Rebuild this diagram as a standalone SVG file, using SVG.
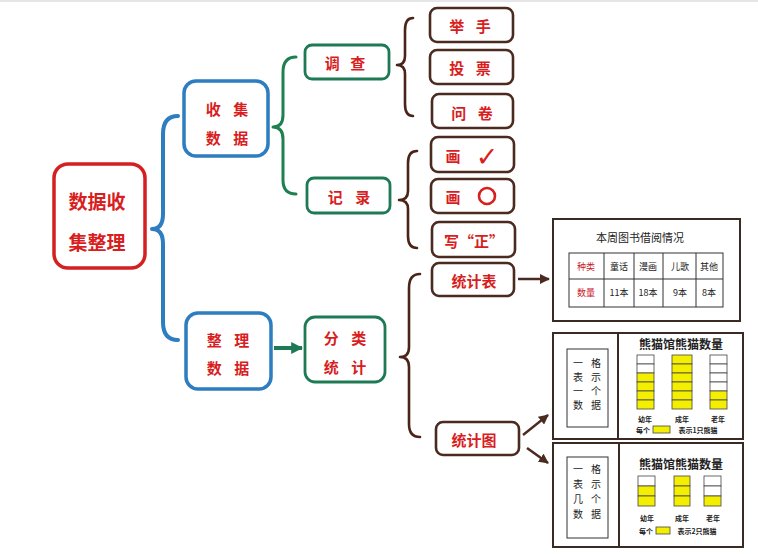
<svg xmlns="http://www.w3.org/2000/svg" width="758" height="554" viewBox="0 0 758 554">
<defs>
<style>
.t{font-family:"Noto Sans CJK SC","Liberation Sans",sans-serif;font-weight:bold;fill:#d81e1e;text-anchor:middle;dominant-baseline:central}
.s{font-family:"Noto Sans CJK SC","Liberation Serif",serif;fill:#222;text-anchor:middle;dominant-baseline:central}
.v{font-family:"Noto Sans CJK SC","Liberation Serif",serif;fill:#222;text-anchor:middle;dominant-baseline:central;font-size:10px}
.red{stroke:#d42020;stroke-width:3.5;fill:#fff}
.blue{stroke:#2d7dc0;stroke-width:3.5;fill:#fff}
.green{stroke:#1e7a55;stroke-width:2.8;fill:#fff}
.brown{stroke:#4b2a20;stroke-width:2.6;fill:#fff}
.frame{stroke:#3a2a24;stroke-width:2;fill:#fff}
.thin{stroke:#333;stroke-width:1;fill:none}
.y{fill:#f4ef00;stroke:#444;stroke-width:0.8}
.w{fill:#fff;stroke:#444;stroke-width:0.8}
.br{fill:none;stroke-linecap:round;stroke-linejoin:round}
</style>
<marker id="ab" viewBox="0 0 10 10" refX="9" refY="5" markerWidth="4" markerHeight="4" orient="auto" markerUnits="strokeWidth"><path d="M0,0 L10,5 L0,10 z" fill="#4b2a20"/></marker>
<marker id="ag" viewBox="0 0 10 10" refX="9" refY="5" markerWidth="3" markerHeight="3" orient="auto" markerUnits="strokeWidth"><path d="M0,0 L10,5 L0,10 z" fill="#1e7a55"/></marker>
</defs>
<rect x="0" y="0" width="758" height="554" fill="#fff"/>
<rect x="0" y="0" width="758" height="2" fill="#e6e6e6"/>

<g id="connectors">
<path class="br" stroke="#2d7dc0" stroke-width="4" d="M178,116 Q163,116 163,134 L163,214 Q163,229 152,229 Q163,229 163,244 L163,322 Q163,340 178,340"/>
<path class="br" stroke="#1e8050" stroke-width="3" d="M296,57 Q283,57 283,72 L283,115 Q283,127 273,127 Q283,127 283,139 L283,180 Q283,194 296,194"/>
<path class="br" stroke="#4b2418" stroke-width="2.6" d="M413,18 Q405,18 405,30 L405,56 Q405,65 397,65 Q405,65 405,74 L405,104 Q405,116 413,116"/>
<path class="br" stroke="#4b2418" stroke-width="2.6" d="M417,151 Q408,151 408,163 L408,191 Q408,200 399,200 Q408,200 408,209 L408,236 Q408,248 417,248"/>
<path class="br" stroke="#4b2418" stroke-width="2.6" d="M420,274 Q409,274 409,288 L409,347 Q409,357 400,357 Q409,357 409,367 L409,424 Q409,437 420,437"/>
<line x1="274" y1="348" x2="302" y2="348" stroke="#1e7a55" stroke-width="4" marker-end="url(#ag)"/>
<line x1="518" y1="279" x2="549" y2="279" stroke="#4b2a20" stroke-width="2.5" marker-end="url(#ab)"/>
<line x1="523" y1="435" x2="548" y2="415" stroke="#4b2a20" stroke-width="2.5" marker-end="url(#ab)"/>
<line x1="527" y1="448" x2="548" y2="463" stroke="#4b2a20" stroke-width="2.5" marker-end="url(#ab)"/>
</g>

<g id="root">
<rect class="red" x="54" y="164" width="91" height="104" rx="14"/>
<text class="t" x="97" y="200" font-size="19">数据收</text>
<text class="t" x="97" y="241" font-size="19">集整理</text>
</g>

<g id="collect">
<rect class="blue" x="184" y="81" width="84" height="75" rx="12"/>
<text class="t" x="227" y="108" font-size="15" word-spacing="9">收 集</text>
<text class="t" x="227" y="137" font-size="15" word-spacing="9">数 据</text>
</g>

<g id="organize">
<rect class="blue" x="186" y="313" width="85" height="76" rx="12"/>
<text class="t" x="228" y="339" font-size="15" word-spacing="9">整 理</text>
<text class="t" x="228" y="367" font-size="15" word-spacing="9">数 据</text>
</g>

<g id="survey">
<rect class="green" x="305" y="45" width="84" height="34" rx="7"/>
<text class="t" x="345" y="62" font-size="15" word-spacing="7">调 查</text>
</g>

<g id="record">
<rect class="green" x="307" y="178" width="83" height="35" rx="7"/>
<text class="t" x="349" y="196" font-size="15" word-spacing="9">记 录</text>
</g>

<g id="classify">
<rect class="green" x="305" y="317" width="80" height="65" rx="10"/>
<text class="t" x="345" y="337" font-size="15" word-spacing="9">分 类</text>
<text class="t" x="345" y="366" font-size="15" word-spacing="9">统 计</text>
</g>

<g id="hand">
<rect class="brown" x="430" y="8" width="83" height="34" rx="7"/>
<text class="t" x="470" y="25" font-size="15" word-spacing="8">举 手</text>
</g>
<g id="vote">
<rect class="brown" x="430" y="50" width="83" height="34" rx="7"/>
<text class="t" x="470" y="67" font-size="15" word-spacing="8">投 票</text>
</g>
<g id="questionnaire">
<rect class="brown" x="432" y="94" width="81" height="34" rx="7"/>
<text class="t" x="472" y="112" font-size="15" word-spacing="8">问 卷</text>
</g>
<g id="check">
<rect class="brown" x="431" y="137" width="83" height="35" rx="7"/>
<text class="t" x="453" y="155" font-size="15">画</text>
<text x="487" y="156" font-size="27" font-family="DejaVu Sans,sans-serif" font-weight="bold" fill="#d81e1e" text-anchor="middle" dominant-baseline="central">✓</text>
</g>
<g id="circle">
<rect class="brown" x="431" y="179" width="83" height="34" rx="7"/>
<text class="t" x="453" y="196" font-size="15">画</text>
<circle cx="487" cy="196" r="8" fill="none" stroke="#d81e1e" stroke-width="2.6"/>
</g>
<g id="zheng">
<rect class="brown" x="432" y="222" width="83" height="35" rx="7"/>
<text class="t" x="474" y="240" font-size="15">写“正”</text>
</g>

<g id="table-node">
<rect class="brown" x="432" y="263" width="82" height="33" rx="7"/>
<text class="t" x="474" y="280" font-size="15">统计表</text>
</g>
<g id="chart-node">
<rect class="brown" x="436" y="422" width="83" height="33" rx="7"/>
<text class="t" x="474" y="439" font-size="15">统计图</text>
</g>

<g id="table-card">
<rect class="frame" x="553" y="219" width="187" height="102"/>
<text class="s" x="640" y="237" font-size="11">本周图书借阅情况</text>
<rect class="thin" x="569" y="253" width="154" height="54"/>
<line class="thin" x1="569" y1="279" x2="723" y2="279"/>
<line class="thin" x1="604" y1="253" x2="604" y2="307"/>
<line class="thin" x1="634" y1="253" x2="634" y2="307"/>
<line class="thin" x1="663" y1="253" x2="663" y2="307"/>
<line class="thin" x1="696" y1="253" x2="696" y2="307"/>
<text class="s" x="586" y="266" font-size="9" style="fill:#c8202a">种类</text>
<text class="s" x="619" y="266" font-size="9">童话</text>
<text class="s" x="648" y="266" font-size="9">漫画</text>
<text class="s" x="680" y="266" font-size="9">儿歌</text>
<text class="s" x="709" y="266" font-size="9">其他</text>
<text class="s" x="586" y="292" font-size="9" style="fill:#c8202a">数量</text>
<text class="s" x="619" y="292" font-size="9">11本</text>
<text class="s" x="648" y="292" font-size="9">18本</text>
<text class="s" x="680" y="292" font-size="9">9本</text>
<text class="s" x="709" y="292" font-size="9">8本</text>
</g>

<g id="chart-card-1">
<rect class="frame" x="553" y="333" width="190" height="106"/>
<line x1="618" y1="333" x2="618" y2="439" stroke="#3a2a24" stroke-width="2"/>
<rect class="thin" x="567" y="349" width="41" height="78"/>
<text class="v" x="578" y="362">一</text>
<text class="v" x="578" y="376">表</text>
<text class="v" x="578" y="390">一</text>
<text class="v" x="578" y="404">数</text>
<text class="v" x="596" y="362">格</text>
<text class="v" x="596" y="376">示</text>
<text class="v" x="596" y="390">个</text>
<text class="v" x="596" y="404">据</text>
<text class="s" x="681" y="343" font-size="12" font-weight="bold">熊猫馆熊猫数量</text>
<rect class="w" x="637" y="355" width="17" height="9"/>
<rect class="w" x="637" y="364" width="17" height="9"/>
<rect class="y" x="637" y="373" width="17" height="9"/>
<rect class="y" x="637" y="382" width="17" height="9"/>
<rect class="y" x="637" y="391" width="17" height="9"/>
<rect class="y" x="637" y="400" width="17" height="9"/>
<rect class="y" x="672" y="355" width="20" height="9"/>
<rect class="y" x="672" y="364" width="20" height="9"/>
<rect class="y" x="672" y="373" width="20" height="9"/>
<rect class="y" x="672" y="382" width="20" height="9"/>
<rect class="y" x="672" y="391" width="20" height="9"/>
<rect class="y" x="672" y="400" width="20" height="9"/>
<rect class="w" x="710" y="355" width="17" height="9"/>
<rect class="w" x="710" y="364" width="17" height="9"/>
<rect class="w" x="710" y="373" width="17" height="9"/>
<rect class="w" x="710" y="382" width="17" height="9"/>
<rect class="y" x="710" y="391" width="17" height="9"/>
<rect class="y" x="710" y="400" width="17" height="9"/>
<text class="s" x="645" y="419" font-size="7" font-weight="bold">幼年</text>
<text class="s" x="682" y="419" font-size="7" font-weight="bold">成年</text>
<text class="s" x="718" y="419" font-size="7" font-weight="bold">老年</text>
<text class="s" x="643" y="430" font-size="7" font-weight="bold">每个</text>
<rect class="y" x="653" y="426" width="17" height="7"/>
<text class="s" x="698" y="430" font-size="7" font-weight="bold">表示1只熊猫</text>
</g>

<g id="chart-card-2">
<rect class="frame" x="553" y="443" width="190" height="104"/>
<line x1="619" y1="443" x2="619" y2="547" stroke="#3a2a24" stroke-width="2"/>
<rect class="thin" x="567" y="457" width="41" height="81"/>
<text class="v" x="578" y="468">一</text>
<text class="v" x="578" y="483">表</text>
<text class="v" x="578" y="498">几</text>
<text class="v" x="578" y="513">数</text>
<text class="v" x="596" y="468">格</text>
<text class="v" x="596" y="483">示</text>
<text class="v" x="596" y="498">个</text>
<text class="v" x="596" y="513">据</text>
<text class="s" x="681" y="463" font-size="12" font-weight="bold">熊猫馆熊猫数量</text>
<rect class="w" x="638" y="476" width="17" height="10"/>
<rect class="y" x="638" y="486" width="17" height="10"/>
<rect class="y" x="638" y="496" width="17" height="10"/>
<rect class="y" x="674" y="476" width="16" height="10"/>
<rect class="y" x="674" y="486" width="16" height="10"/>
<rect class="y" x="674" y="496" width="16" height="10"/>
<rect class="w" x="704" y="476" width="17" height="10"/>
<rect class="w" x="704" y="486" width="17" height="10"/>
<rect class="y" x="704" y="496" width="17" height="10"/>
<text class="s" x="647" y="518" font-size="7" font-weight="bold">幼年</text>
<text class="s" x="682" y="518" font-size="7" font-weight="bold">成年</text>
<text class="s" x="713" y="518" font-size="7" font-weight="bold">老年</text>
<text class="s" x="646" y="531" font-size="7" font-weight="bold">每个</text>
<rect class="y" x="656" y="527" width="14" height="7"/>
<text class="s" x="697" y="531" font-size="7" font-weight="bold">表示2只熊猫</text>
</g>
</svg>
